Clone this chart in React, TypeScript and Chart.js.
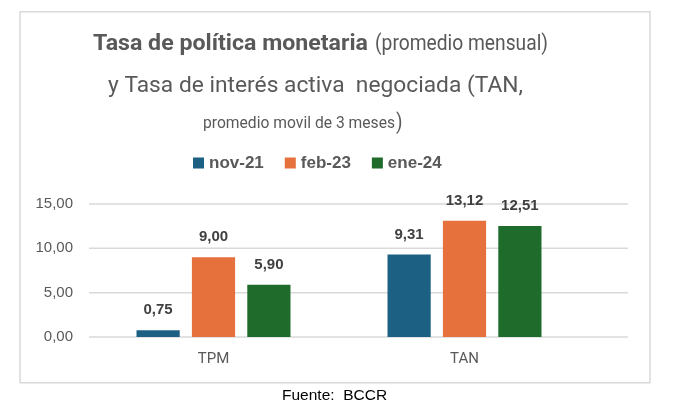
import { useEffect, useRef } from "react";
import { Chart, registerables } from "chart.js";

Chart.register(...registerables);

// Data
const categories = ["TPM", "TAN"];
const seriesLabels = ["nov-21", "feb-23", "ene-24"];
const nov21 = [0.75, 9.31];
const feb23 = [9.0, 13.12];
const ene24 = [5.9, 12.51];
const yTickValues = [0, 5, 10, 15];

// Text
const titleBold = "Tasa de política monetaria";
const titleNote = "(promedio mensual)";
const titleLine2 = "y Tasa de interés activa  negociada (TAN,";
const titleLine3 = "promedio movil de 3 meses";
const titleClose = ")";
const sourceText = "Fuente:  BCCR";

const seriesColors = ["#1C6084", "#E6713C", "#1F6B2C"];
const textGray = "#595959";
const gridGray = "#D9D9D9";

const fmt = (v: number) => v.toFixed(2).replace(".", ",");

// Draws text squeezed/stretched horizontally to occupy a given width
function fitText(
  ctx: CanvasRenderingContext2D,
  text: string,
  x: number,
  baseline: number,
  width: number,
  font: string
) {
  ctx.font = font;
  const w = ctx.measureText(text).width;
  ctx.save();
  ctx.translate(x, baseline);
  ctx.scale(width / w, 1);
  ctx.textAlign = "left";
  ctx.textBaseline = "alphabetic";
  ctx.fillText(text, 0, 0);
  ctx.restore();
}

const framePlugin = {
  id: "frame",
  beforeDraw(chart: any) {
    const ctx = chart.ctx as CanvasRenderingContext2D;
    ctx.save();
    ctx.fillStyle = "#FFFFFF";
    ctx.fillRect(0, 0, chart.width, chart.height);
    ctx.strokeStyle = gridGray;
    ctx.lineWidth = 1.5;
    ctx.strokeRect(20, 11.75, 630, 371);
    ctx.restore();
  },
};

const gridPlugin = {
  id: "valueGrid",
  beforeDatasetsDraw(chart: any) {
    const ctx = chart.ctx as CanvasRenderingContext2D;
    const y = chart.scales.y;
    const area = chart.chartArea;
    ctx.save();
    ctx.strokeStyle = gridGray;
    ctx.lineWidth = 1.5;
    for (const v of yTickValues) {
      const py = y.getPixelForValue(v);
      ctx.beginPath();
      ctx.moveTo(area.left + 1, py);
      ctx.lineTo(area.right + 38, py);
      ctx.stroke();
    }
    ctx.restore();
  },
};

const valueLabelPlugin = {
  id: "valueLabels",
  afterDatasetsDraw(chart: any) {
    const ctx = chart.ctx as CanvasRenderingContext2D;
    ctx.save();
    ctx.font = "bold 15px 'Liberation Sans', Arial, sans-serif";
    ctx.fillStyle = "#404040";
    ctx.textAlign = "center";
    ctx.textBaseline = "middle";
    chart.data.datasets.forEach((ds: any, i: number) => {
      const meta = chart.getDatasetMeta(i);
      meta.data.forEach((bar: any, j: number) => {
        ctx.fillText(fmt(ds.data[j]), bar.x, bar.y - 20);
      });
    });
    ctx.restore();
  },
};

const headerPlugin = {
  id: "header",
  afterDraw(chart: any) {
    const ctx = chart.ctx as CanvasRenderingContext2D;
    ctx.save();
    ctx.fillStyle = textGray;

    // Title
    fitText(ctx, titleBold, 93, 49.5, 275, "bold 22px Roboto, sans-serif");
    fitText(ctx, titleNote, 375, 49.5, 173, "22px Roboto, sans-serif");
    fitText(ctx, titleLine2, 108, 92, 415, "22px Roboto, sans-serif");
    fitText(ctx, titleLine3, 203, 127.5, 192, "16.5px Roboto, sans-serif");
    fitText(ctx, titleClose, 396, 129, 6.5, "22px Roboto, sans-serif");

    // Legend
    ctx.font = "bold 17px 'Liberation Sans', Arial, sans-serif";
    ctx.textAlign = "left";
    ctx.textBaseline = "middle";
    let x = 193;
    chart.data.datasets.forEach((ds: any) => {
      ctx.fillStyle = ds.backgroundColor;
      ctx.fillRect(x, 157.5, 11, 11);
      ctx.fillStyle = textGray;
      ctx.fillText(ds.label, x + 16, 163.5);
      x += 16 + ctx.measureText(ds.label).width + 21;
    });

    // Source
    ctx.fillStyle = "#000000";
    ctx.font = "15.5px 'Liberation Sans', Arial, sans-serif";
    ctx.textAlign = "left";
    ctx.textBaseline = "alphabetic";
    ctx.fillText(sourceText, 282, 400);
    ctx.restore();
  },
};

export default function App() {
  const canvasRef = useRef<HTMLCanvasElement | null>(null);

  useEffect(() => {
    const canvas = canvasRef.current;
    if (!canvas) return;
    const seriesValues = [nov21, feb23, ene24];
    const chart = new Chart(canvas, {
      type: "bar",
      data: {
        labels: categories,
        datasets: seriesLabels.map((label, i) => ({
          label,
          data: seriesValues[i],
          backgroundColor: seriesColors[i],
          borderWidth: 0,
          categoryPercentage: 0.662,
          barPercentage: 0.78,
        })),
      },
      options: {
        responsive: false,
        animation: false,
        devicePixelRatio: 1,
        layout: { padding: { top: 204, right: 84, bottom: 51, left: 0 } },
        plugins: {
          legend: { display: false },
          title: { display: false },
          tooltip: { enabled: false },
        },
        scales: {
          x: {
            grid: { display: false, drawTicks: false },
            border: { display: false },
            ticks: {
              color: textGray,
              font: { family: "Roboto, sans-serif", size: 15 },
              padding: 13,
            },
            afterFit: (s: any) => {
              s.height = 30;
            },
          },
          y: {
            min: 0,
            max: 15,
            grid: { display: false, drawTicks: false },
            border: { display: false },
            ticks: {
              stepSize: 5,
              color: textGray,
              font: { family: "'Liberation Sans', Arial, sans-serif", size: 15 },
              padding: 15,
              callback: (v: any) => fmt(Number(v)),
            },
            afterFit: (s: any) => {
              s.width = 88;
            },
          },
        },
      },
      plugins: [framePlugin, gridPlugin, valueLabelPlugin, headerPlugin],
    });
    return () => chart.destroy();
  }, []);

  return (
    <div style={{ position: "absolute", left: 0, top: 0, width: 674, height: 418 }}>
      <canvas ref={canvasRef} width={674} height={418} style={{ display: "block" }} />
    </div>
  );
}
